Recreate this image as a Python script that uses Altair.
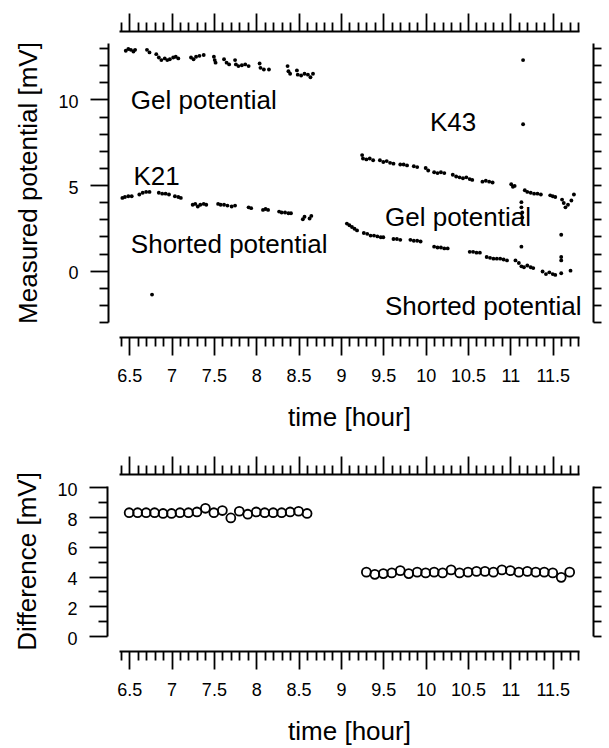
import altair as alt
import pandas as pd

FONT = "Liberation Sans"

# ---- measured potentials, top panel (time in hours, potential in mV) ----
k21_gel_t = [6.46, 6.49, 6.52, 6.55, 6.57, 6.71, 6.74, 6.82, 6.85, 6.88, 6.92, 6.95,
             6.98, 7.02, 7.05, 7.08, 7.23, 7.26, 7.29, 7.33, 7.38, 7.50, 7.51, 7.52,
             7.62, 7.65, 7.68, 7.75, 7.76, 7.79, 7.83, 7.87, 7.91, 8.04, 8.05, 8.09,
             8.15, 8.37, 8.38, 8.40, 8.48, 8.49, 8.53, 8.57, 8.61, 8.64, 8.67]
k21_gel_v = [12.85, 12.95, 12.9, 12.8, 12.9, 12.9, 12.75, 12.65, 12.45, 12.3, 12.4, 12.3,
             12.35, 12.45, 12.5, 12.4, 12.45, 12.35, 12.5, 12.55, 12.6, 12.5, 12.3, 12.15,
             12.35, 12.15, 12.05, 12.3, 12.05, 11.95, 12.0, 12.05, 11.95, 12.1, 11.85, 11.75,
             11.75, 11.95, 11.65, 11.5, 11.7, 11.45, 11.4, 11.5, 11.45, 11.3, 11.5]

k21_short_t = [6.42, 6.45, 6.49, 6.53, 6.62, 6.66, 6.70, 6.74, 6.85, 6.89, 6.93, 6.97,
               7.04, 7.08, 7.11, 7.25, 7.28, 7.31, 7.34, 7.38, 7.41, 7.55, 7.58, 7.62,
               7.66, 7.71, 7.75, 7.91, 7.94, 8.08, 8.11, 8.14, 8.27, 8.30, 8.34, 8.38,
               8.41, 8.55, 8.57, 8.63, 8.65]
k21_short_v = [4.25, 4.3, 4.35, 4.35, 4.45, 4.55, 4.6, 4.6, 4.55, 4.5, 4.5, 4.45,
               4.35, 4.3, 4.25, 3.85, 3.9, 3.75, 3.85, 3.9, 3.85, 3.9, 3.85, 3.85,
               3.8, 3.75, 3.8, 3.7, 3.65, 3.55, 3.6, 3.55, 3.45, 3.4, 3.4, 3.35,
               3.35, 3.0, 3.15, 3.05, 3.2]

k43_gel_t = [9.25, 9.26, 9.30, 9.34, 9.38, 9.46, 9.50, 9.54, 9.58, 9.62, 9.70, 9.74,
             9.78, 9.86, 9.90, 10.00, 10.03, 10.10, 10.14, 10.18, 10.22, 10.32, 10.36,
             10.40, 10.44, 10.48, 10.52, 10.55, 10.67, 10.71, 10.75, 10.79, 11.01, 11.03,
             11.05, 11.13, 11.13, 11.14, 11.14, 11.17, 11.20, 11.24, 11.28, 11.32, 11.36,
             11.47, 11.50, 11.53, 11.61, 11.63, 11.65, 11.68, 11.72, 11.75]
k43_gel_v = [6.75, 6.55, 6.5, 6.55, 6.45, 6.45, 6.35, 6.4, 6.3, 6.25, 6.2, 6.2,
             6.15, 6.1, 6.05, 6.0, 5.85, 5.75, 5.7, 5.75, 5.7, 5.6, 5.5,
             5.45, 5.4, 5.45, 5.35, 5.3, 5.2, 5.25, 5.2, 5.15, 5.05, 4.9,
             4.95, 4.0, 3.7, 3.4, 3.1, 4.7, 4.6, 4.55, 4.5, 4.5, 4.45,
             4.4, 4.35, 4.3, 4.15, 3.95, 3.7, 3.85, 4.1, 4.45]

k43_short_t = [9.07, 9.10, 9.13, 9.16, 9.19, 9.27, 9.31, 9.35, 9.39, 9.43, 9.47, 9.50,
               9.62, 9.66, 9.70, 9.82, 9.86, 9.90, 9.94, 10.10, 10.14, 10.18, 10.22,
               10.26, 10.52, 10.56, 10.60, 10.64, 10.72, 10.76, 10.80, 10.84, 10.88, 10.92,
               10.96, 11.06, 11.10, 11.13, 11.16, 11.20, 11.24, 11.27, 11.38, 11.42, 11.46,
               11.50, 11.53, 11.60, 11.71, 11.13, 11.60, 11.60, 11.60]
k43_short_v = [2.75, 2.65, 2.55, 2.45, 2.35, 2.2, 2.15, 2.05, 2.05, 2.0, 1.95, 1.95,
               1.85, 1.85, 1.8, 1.8, 1.75, 1.75, 1.7, 1.4, 1.35, 1.35, 1.3,
               1.3, 1.1, 1.1, 1.05, 1.05, 0.8, 0.75, 0.7, 0.7, 0.7, 0.65,
               0.6, 0.6, 0.45, 0.25, 0.2, 0.3, 0.2, 0.15, -0.05, -0.2, -0.1,
               -0.2, -0.25, -0.15, 0.0, 1.4, 2.1, 0.8, 0.6]

# isolated spikes
spike_t = [6.77, 11.15, 11.15]
spike_v = [-1.4, 12.3, 8.55]

# ---- labels written inside the upper panel ----
note_text = ["Gel potential", "K21", "Shorted potential", "K43", "Gel potential",
             "Shorted potential"]
note_t = [6.52, 6.55, 6.52, 10.05, 9.52, 9.52]
note_v = [9.9, 5.5, 1.5, 8.65, 3.1, -2.1]

# ---- difference, bottom panel ----
diff1_t = [6.5, 6.6, 6.7, 6.8, 6.9, 7.0, 7.1, 7.2, 7.3, 7.4, 7.5, 7.6, 7.7, 7.8,
           7.9, 8.0, 8.1, 8.2, 8.3, 8.4, 8.5, 8.6]
diff1_v = [8.3, 8.3, 8.3, 8.3, 8.25, 8.25, 8.3, 8.3, 8.35, 8.6, 8.3, 8.45, 7.95, 8.4,
           8.2, 8.35, 8.3, 8.3, 8.3, 8.35, 8.4, 8.25]
diff2_t = [9.3, 9.4, 9.5, 9.6, 9.7, 9.8, 9.9, 10.0, 10.1, 10.2, 10.3, 10.4, 10.5,
           10.6, 10.7, 10.8, 10.9, 11.0, 11.1, 11.2, 11.3, 11.4, 11.5, 11.6, 11.7]
diff2_v = [4.3, 4.15, 4.2, 4.25, 4.4, 4.2, 4.3, 4.25, 4.3, 4.25, 4.45, 4.25, 4.3,
           4.35, 4.35, 4.3, 4.45, 4.4, 4.3, 4.35, 4.3, 4.3, 4.25, 3.95, 4.3]

# ---- axis ticks ----
X_DOMAIN = [6.38, 11.81]
X_TICKS = [round(6.4 + 0.1 * i, 1) for i in range(55)]
Y1_DOMAIN = [-3, 13.3]
Y1_TICKS = list(range(-3, 14))
Y2_DOMAIN = [0, 10.1]
Y2_TICKS = list(range(0, 11))

HALF = "abs(datum.value * 2 - round(datum.value * 2)) < 0.001"


def frame(t, v):
    return pd.DataFrame({"t": t, "v": v})


style = dict(domainColor="black", domainWidth=2, tickColor="black", tickWidth=1.8,
             grid=False, labelFont=FONT, labelFontSize=18, labelColor="black",
             titleFont=FONT, titleFontSize=26, titleFontWeight="normal",
             titleColor="black", labelFlush=False, labelOverlap=False)

x_bottom = alt.Axis(orient="bottom", values=X_TICKS, offset=15,
                    tickSize={"expr": f"{HALF} ? 18 : 9"},
                    labelExpr=f"{HALF} ? format(datum.value, '.1~f') : ''",
                    labelPadding=12, title="time [hour]", titlePadding=19, **style)
x_top = alt.Axis(orient="top", values=X_TICKS, offset=12,
                 tickSize={"expr": f"{HALF} ? 18 : 9"}, labels=False, title=None,
                 **style)


def y_left(title, major, offset):
    return alt.Axis(orient="left", values=Y1_TICKS if major == 5 else Y2_TICKS,
                    offset=offset,
                    tickSize={"expr": f"datum.value % {major} == 0 ? 18 : 9"},
                    labelExpr=f"datum.value % {major} == 0 ? datum.label : ''",
                    labelPadding=12, labelOffset=3, title=title, titlePadding=16,
                    **style)


def y_right(ticks):
    return alt.Axis(orient="right", values=ticks, offset=14, tickSize=8,
                    labels=False, title=None, **style)


xs = alt.Scale(domain=X_DOMAIN, nice=False, zero=False)
ys1 = alt.Scale(domain=Y1_DOMAIN, nice=False, zero=False)
ys2 = alt.Scale(domain=Y2_DOMAIN, nice=False, zero=False)

dots = dict(size=15, color="black", opacity=1)
plain_cell = alt.ViewBackground(stroke="white", strokeWidth=3, strokeOpacity=1,
                                fill="white")


def dot_layer(df, xaxis, yaxis):
    return alt.Chart(df).mark_circle(**dots).encode(
        x=alt.X("t:Q", scale=xs, axis=xaxis),
        y=alt.Y("v:Q", scale=ys1, axis=yaxis),
    )


top = alt.layer(
    dot_layer(frame(k21_gel_t, k21_gel_v), x_bottom,
              y_left("Measured potential [mV]", 5, 11)),
    dot_layer(frame(k21_short_t, k21_short_v), x_top, y_right(Y1_TICKS)),
    dot_layer(frame(k43_gel_t, k43_gel_v), None, None),
    dot_layer(frame(k43_short_t, k43_short_v), None, None),
    dot_layer(frame(spike_t, spike_v), None, None),
    alt.Chart(pd.DataFrame({"t": note_t, "v": note_v, "txt": note_text}))
    .mark_text(align="left", baseline="middle", font=FONT, fontSize=26, color="black")
    .encode(x=alt.X("t:Q", scale=xs, axis=None),
            y=alt.Y("v:Q", scale=ys1, axis=None),
            text="txt:N"),
).resolve_axis(x="independent", y="independent").properties(
    width=460, height=279, view=plain_cell)

circles = dict(shape="circle", filled=False, size=80, color="black", strokeWidth=1.8,
               opacity=1)

bottom = alt.layer(
    alt.Chart(frame(diff1_t, diff1_v)).mark_point(**circles).encode(
        x=alt.X("t:Q", scale=xs, axis=x_bottom),
        y=alt.Y("v:Q", scale=ys2, axis=y_left("Difference [mV]", 2, 12)),
    ),
    alt.Chart(frame(diff2_t, diff2_v)).mark_point(**circles).encode(
        x=alt.X("t:Q", scale=xs, axis=x_top),
        y=alt.Y("v:Q", scale=ys2, axis=y_right(Y2_TICKS)),
    ),
).resolve_axis(x="independent", y="independent").properties(
    width=460, height=150, view=plain_cell)

chart = alt.vconcat(top, bottom, spacing=21).properties(
    padding={"left": 13, "top": 10, "right": 5, "bottom": 2},
    background="white",
).configure(
    view=alt.ViewConfig(stroke="white", strokeWidth=3, strokeOpacity=1, fill="white"),
    axis=alt.AxisConfig(grid=False, gridOpacity=0, gridColor="white"),
    style={"cell": {"stroke": "white", "strokeWidth": 3, "fill": "white"}},
)

chart.save("out.html", embed_options={"renderer": "svg", "actions": False})
